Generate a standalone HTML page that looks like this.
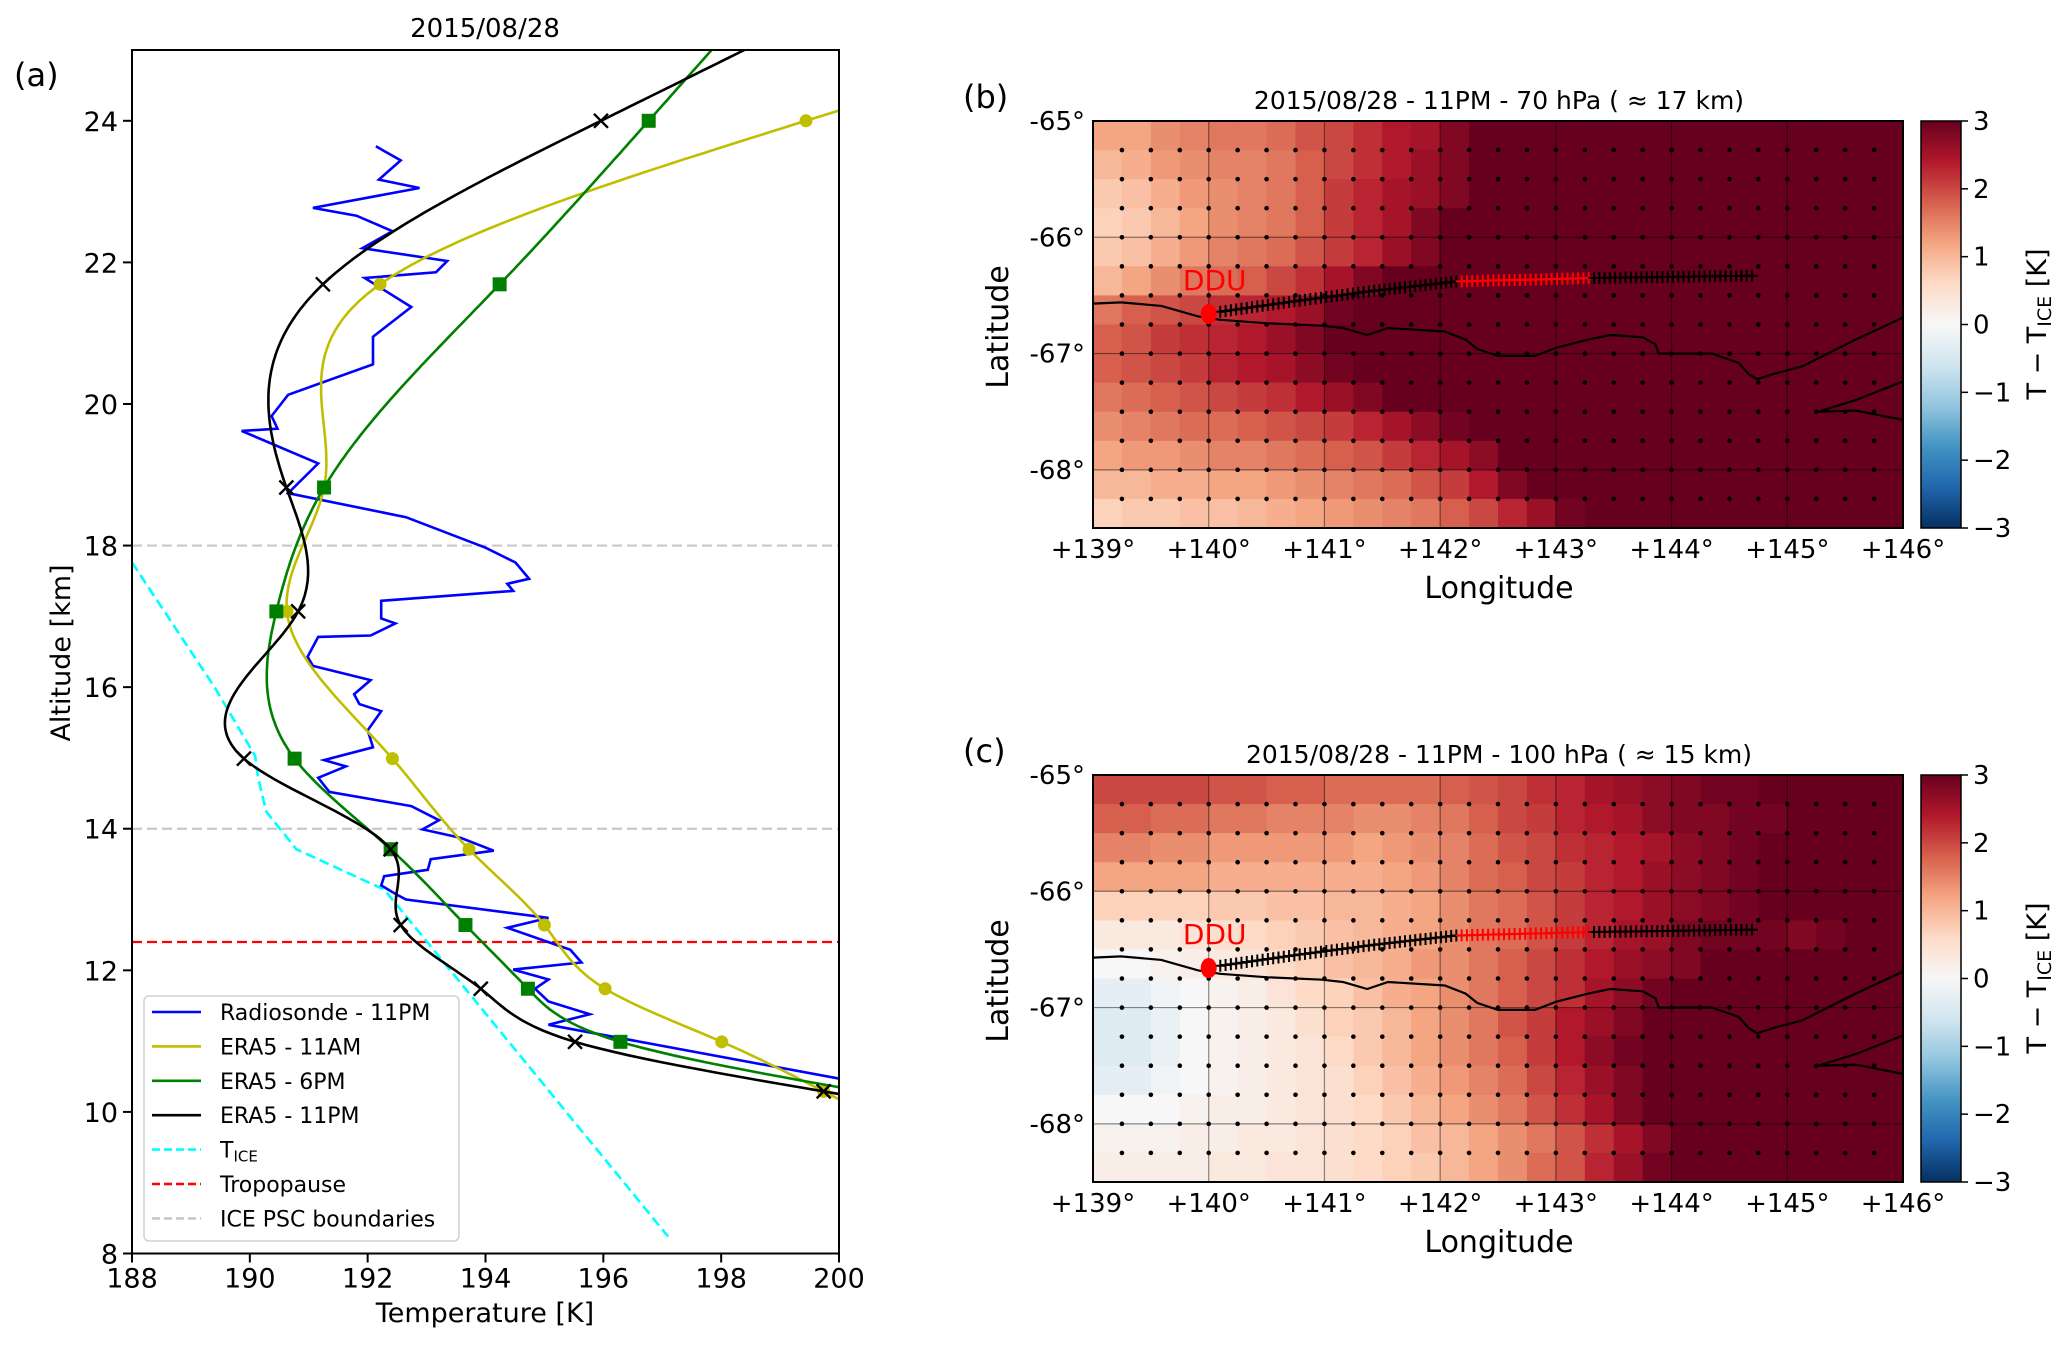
<!DOCTYPE html>
<html><head><meta charset="utf-8">
<style>
html,body{margin:0;padding:0;background:#fff;}
svg{display:block;font-family:"DejaVu Sans","Liberation Sans",sans-serif;}
</style></head>
<body>
<svg id="fig" width="2067" height="1345" viewBox="0 0 2067 1345" xmlns="http://www.w3.org/2000/svg"></svg>
<script>
// ---------- Panel (a) data ----------
const sondeT = [200.0,195.07,195.77,195.07,194.84,195.07,194.47,195.63,195.44,194.37,195.07,192.65,192.47,192.23,192.28,193.02,193.07,194.14,193.58,192.93,193.21,192.74,191.35,191.16,191.63,191.26,192.09,192.0,192.23,191.86,191.77,192.05,191.07,190.98,191.16,192.05,192.47,192.23,192.23,194.47,194.37,194.74,194.51,194.0,192.65,190.65,191.16,189.86,190.47,190.37,190.65,192.09,192.09,192.74,191.95,193.16,193.35,191.91,192.42,191.81,191.07,192.88,192.19,192.56,192.14];
const sondeZ = [10.47,11.23,11.38,11.56,11.74,11.87,12.01,12.11,12.29,12.6,12.74,13.0,13.08,13.2,13.33,13.42,13.57,13.69,13.87,13.99,14.12,14.32,14.52,14.72,14.88,14.97,15.15,15.39,15.66,15.76,15.9,16.1,16.3,16.43,16.71,16.73,16.9,16.97,17.22,17.36,17.46,17.53,17.76,17.97,18.4,18.74,19.16,19.62,19.65,19.83,20.13,20.56,20.95,21.37,21.78,21.86,22.02,22.2,22.44,22.66,22.77,23.05,23.17,23.44,23.64];
const eraLevels = [10.29,10.99,11.74,12.64,13.71,14.99,17.07,18.82,21.69,24.0];
const era11am = [199.74,198.01,196.03,195.0,193.72,192.42,190.63,191.26,192.21,199.44];
const era6pm  = [200.4,196.29,194.72,193.66,192.39,190.76,190.45,191.26,194.24,196.77];
const era11pm = [199.74,195.52,193.92,192.56,192.39,189.9,190.82,190.62,191.24,195.96];
const ticeT = [188.0,189.4,190.09,190.14,190.28,190.79,192.28,197.1];
const ticeZ = [17.76,16.0,15.03,14.72,14.24,13.71,13.14,8.24];
const tropopause = 12.4;
const pscBounds = [14, 18];
const xTicksA = [188,190,192,194,196,198,200];
const yTicksA = [8,10,12,14,16,18,20,22,24];

// ---------- Map data ----------
const lonTicks = [139,140,141,142,143,144,145,146];
const latTicks = [-65,-66,-67,-68];
const cbTicks = [3,2,1,0,-1,-2,-3];
const gridB = [
[1.2,1.2,1.4,1.5,1.6,1.6,1.7,1.9,2.0,2.2,2.4,2.5,2.8,3,3,3,3,3,3,3,3,3,3,3,3,3,3,3],
[1.0,1.1,1.3,1.4,1.5,1.5,1.6,1.8,2.0,2.2,2.4,2.6,2.8,3,3,3,3,3,3,3,3,3,3,3,3,3,3,3],
[0.8,0.9,1.1,1.3,1.4,1.5,1.6,1.8,2.1,2.3,2.5,2.6,2.8,3,3,3,3,3,3,3,3,3,3,3,3,3,3,3],
[0.7,0.8,1.0,1.2,1.4,1.5,1.6,1.8,2.1,2.3,2.5,2.8,3,3,3,3,3,3,3,3,3,3,3,3,3,3,3,3],
[0.8,0.9,1.1,1.3,1.5,1.6,1.7,1.9,2.1,2.3,2.6,2.8,3,3,3,3,3,3,3,3,3,3,3,3,3,3,3,3],
[1.0,1.2,1.4,1.6,1.7,1.8,2.0,2.2,2.5,2.8,3,3,3,3,3,3,3,3,3,3,3,3,3,3,3,3,3,3],
[1.6,1.8,1.9,2.0,2.2,2.3,2.4,2.6,2.9,3,3,3,3,3,3,3,3,3,3,3,3,3,3,3,3,3,3,3],
[1.8,1.9,2.1,2.2,2.3,2.4,2.6,2.8,3,3,3,3,3,3,3,3,3,3,3,3,3,3,3,3,3,3,3,3],
[1.8,1.9,2.0,2.1,2.3,2.4,2.5,2.7,2.9,3,3,3,3,3,3,3,3,3,3,3,3,3,3,3,3,3,3,3],
[1.6,1.7,1.8,1.9,2.0,2.1,2.2,2.4,2.6,2.8,3,3,3,3,3,3,3,3,3,3,3,3,3,3,3,3,3,3],
[1.4,1.5,1.6,1.7,1.7,1.8,1.9,2.0,2.1,2.3,2.5,2.7,2.9,3,3,3,3,3,3,3,3,3,3,3,3,3,3,3],
[1.2,1.3,1.3,1.4,1.5,1.5,1.6,1.7,1.8,1.9,2.1,2.3,2.5,2.7,3,3,3,3,3,3,3,3,3,3,3,3,3,3],
[1.0,1.0,1.1,1.1,1.2,1.2,1.3,1.4,1.5,1.6,1.7,1.9,2.1,2.4,2.8,3,3,3,3,3,3,3,3,3,3,3,3,3],
[0.7,0.8,0.8,0.9,0.9,1.0,1.1,1.2,1.3,1.4,1.5,1.6,1.8,2.0,2.3,2.6,2.9,3,3,3,3,3,3,3,3,3,3,3]];
const gridC = [
[2.0,2.0,2.0,2.0,1.9,1.9,1.8,1.8,1.7,1.7,1.7,1.7,1.8,1.9,2.0,2.2,2.3,2.5,2.6,2.7,2.8,2.9,2.9,3,3,3,3,3],
[1.8,1.8,1.7,1.7,1.6,1.6,1.5,1.5,1.5,1.4,1.4,1.5,1.6,1.8,2.0,2.1,2.3,2.4,2.5,2.7,2.8,2.8,2.9,2.9,3,3,3,3],
[1.5,1.5,1.4,1.4,1.3,1.3,1.3,1.3,1.3,1.2,1.3,1.4,1.5,1.7,1.9,2.0,2.2,2.3,2.4,2.5,2.7,2.8,2.9,3,3,3,3,3],
[1.2,1.2,1.2,1.2,1.1,1.1,1.1,1.1,1.1,1.1,1.2,1.3,1.5,1.7,1.8,2.0,2.1,2.3,2.4,2.6,2.7,2.8,2.9,3,3,3,3,3],
[0.7,0.7,0.7,0.7,0.8,0.8,0.9,0.9,1.0,1.0,1.1,1.2,1.4,1.6,1.7,1.9,2.1,2.3,2.4,2.6,2.7,2.8,2.9,3,3,3,3,3],
[0.3,0.3,0.3,0.4,0.5,0.6,0.7,0.8,0.9,1.0,1.1,1.2,1.4,1.6,1.7,1.9,2.1,2.3,2.5,2.6,2.8,2.9,2.9,2.9,2.8,2.9,3,3],
[0.0,0.0,0.1,0.2,0.3,0.4,0.6,0.7,0.9,1.0,1.1,1.3,1.4,1.6,1.8,2.0,2.2,2.4,2.6,2.7,2.8,3,3,3,3,3,3,3],
[-0.3,-0.3,-0.1,0,0.1,0.2,0.4,0.6,0.7,0.9,1.1,1.2,1.4,1.6,1.8,2.0,2.2,2.5,2.7,2.9,3,3,3,3,3,3,3,3],
[-0.4,-0.4,-0.2,0,0.1,0.2,0.3,0.5,0.7,0.8,1.0,1.2,1.4,1.6,1.9,2.1,2.4,2.6,2.8,3,3,3,3,3,3,3,3,3],
[-0.4,-0.4,-0.2,0,0.1,0.2,0.3,0.4,0.6,0.8,1.0,1.2,1.4,1.6,1.8,2.1,2.4,2.7,2.9,3,3,3,3,3,3,3,3,3],
[-0.3,-0.3,-0.1,0,0.1,0.2,0.3,0.4,0.5,0.7,0.9,1.1,1.3,1.5,1.7,2.0,2.3,2.6,2.8,3,3,3,3,3,3,3,3,3],
[0,0,0,0.1,0.2,0.2,0.3,0.4,0.5,0.6,0.8,1.0,1.2,1.4,1.6,1.9,2.2,2.5,2.8,3,3,3,3,3,3,3,3,3],
[0.1,0.1,0.1,0.2,0.2,0.3,0.3,0.4,0.5,0.6,0.7,0.9,1.0,1.2,1.4,1.6,1.9,2.2,2.5,2.8,3,3,3,3,3,3,3,3],
[0.2,0.2,0.2,0.2,0.3,0.3,0.4,0.4,0.5,0.6,0.7,0.8,1.0,1.2,1.4,1.7,1.9,2.3,2.6,2.9,3,3,3,3,3,3,3,3]];
const coastLon = [139,139.24,139.59,139.91,140.1,140.51,140.98,141.16,141.37,141.55,142.04,142.22,142.32,142.5,142.82,143.0,143.28,143.47,143.75,143.86,143.89,144.35,144.58,144.67,144.74,144.9,145.13,145.59,146];
const coastLat = [-66.57,-66.56,-66.59,-66.68,-66.71,-66.74,-66.76,-66.78,-66.84,-66.78,-66.81,-66.88,-66.96,-67.02,-67.02,-66.95,-66.88,-66.84,-66.86,-66.92,-67.0,-67.0,-67.08,-67.18,-67.22,-67.17,-67.11,-66.88,-66.69];
const coast2Lon = [146,145.59,145.27,145.59,146];
const coast2Lat = [-67.24,-67.4,-67.5,-67.49,-67.57];
const trajLon = [140.1,140.74,141.43,142.14,143.33,144.74];
const trajLat = [-66.64,-66.55,-66.46,-66.38,-66.35,-66.33];
const trajRed = [142.17,143.31];
const ddu = [140.0,-66.66];

const svg = document.getElementById('fig');
const NS = 'http://www.w3.org/2000/svg';
function mk(tag, attrs, parent){const e=document.createElementNS(NS,tag);for(const k in attrs)e.setAttribute(k,attrs[k]);(parent||svg).appendChild(e);return e;}
function txt(s, attrs, parent){const e=mk('text',attrs,parent);e.textContent=s;return e;}

// ======== Panel (a) ========
const AL=132, AR=839, AT=50, AB=1253.5;
const xA = t => AL + (t-188)*(AR-AL)/12;
const yA = z => AB - (z-8)*(AB-AT)/17;
const gA = mk('g',{});


const cpA = mk('clipPath',{id:'clipA'});
mk('rect',{x:AL,y:AT,width:AR-AL,height:AB-AT},cpA);
const plotA = mk('g',{'clip-path':'url(#clipA)'},gA);

function hline(z,color,name){const l=mk('line',{x1:AL,x2:AR,y1:yA(z),y2:yA(z),stroke:color,'stroke-width':2.2,'stroke-dasharray':'10,5'},plotA);
}
pscBounds.forEach(z=>hline(z,'#c8c8c8','psc-boundary-line'));
hline(tropopause,'#ff0000','tropopause-line');

let d='';ticeT.forEach((t,i)=>{d+=(i?'L':'M')+xA(t).toFixed(1)+','+yA(ticeZ[i]).toFixed(1);});
const tice=mk('path',{d:d,fill:'none',stroke:'#00ffff','stroke-width':2.6,'stroke-dasharray':'10,5'},plotA);


d='';sondeT.forEach((t,i)=>{d+=(i?'L':'M')+xA(t).toFixed(1)+','+yA(sondeZ[i]).toFixed(1);});
const sonde=mk('path',{d:d,fill:'none',stroke:'#0000ff','stroke-width':2.6,'stroke-linejoin':'miter'},plotA);


function spline(xs,ys){const n=xs.length,h=[],al=[],l=[1],mu=[0],zz=[0],c=new Array(n).fill(0),b=[],dd=[];
for(let i=0;i<n-1;i++)h.push(xs[i+1]-xs[i]);
for(let i=1;i<n-1;i++)al[i]=3/h[i]*(ys[i+1]-ys[i])-3/h[i-1]*(ys[i]-ys[i-1]);
for(let i=1;i<n-1;i++){l[i]=2*(xs[i+1]-xs[i-1])-h[i-1]*mu[i-1];mu[i]=h[i]/l[i];zz[i]=(al[i]-h[i-1]*zz[i-1])/l[i];}
for(let j=n-2;j>=0;j--){if(j>0)c[j]=zz[j]-mu[j]*c[j+1];b[j]=(ys[j+1]-ys[j])/h[j]-h[j]*(c[j+1]+2*c[j])/3;dd[j]=(c[j+1]-c[j])/(3*h[j]);}
return x=>{if(x<xs[0]){return ys[0]+b[0]*(x-xs[0]);}
if(x>xs[n-1]){const j=n-2,hh=h[j];const slope=b[j]+2*c[j]*hh+3*dd[j]*hh*hh;return ys[n-1]+slope*(x-xs[n-1]);}
let j=0;while(j<n-2&&x>xs[j+1])j++;const dx=x-xs[j];return ys[j]+b[j]*dx+c[j]*dx*dx+dd[j]*dx*dx*dx;};}
function era(vals,color,name,marker){
 const f=spline(eraLevels,vals);let p='';
 for(let z=9.5;z<=26.5;z+=0.05){p+=(p?'L':'M')+xA(f(z)).toFixed(1)+','+yA(z).toFixed(1);}
 const ln=mk('path',{d:p,fill:'none',stroke:color,'stroke-width':2.6},plotA);
 
 vals.forEach((t,i)=>{const x=xA(t),y=yA(eraLevels[i]);let m;
  if(marker==='o')m=mk('circle',{cx:x,cy:y,r:6.5,fill:color},plotA);
  else if(marker==='s')m=mk('rect',{x:x-7,y:y-7,width:14,height:14,fill:color},plotA);
  else m=mk('path',{d:`M${x-7},${y-7}L${x+7},${y+7}M${x-7},${y+7}L${x+7},${y-7}`,stroke:color,'stroke-width':2.4},plotA);
  });
}
era(era11am,'#bfbf00','era5-11am-line','o');
era(era6pm,'#008000','era5-6pm-line','s');
era(era11pm,'#000000','era5-11pm-line','x');

const fa=mk('rect',{x:AL,y:AT,width:AR-AL,height:AB-AT,fill:'none',stroke:'#000','stroke-width':2},gA);

xTicksA.forEach(t=>{mk('line',{x1:xA(t),x2:xA(t),y1:AB,y2:AB+9,stroke:'#000','stroke-width':2},gA);
 const e=txt(String(t),{x:xA(t),y:AB+34,'font-size':27,'text-anchor':'middle',fill:'#000'},gA);
 });
yTicksA.forEach(z=>{mk('line',{x1:AL-9,x2:AL,y1:yA(z),y2:yA(z),stroke:'#000','stroke-width':2},gA);
 const e=txt(String(z),{x:AL-14,y:yA(z)+10,'font-size':27,'text-anchor':'end',fill:'#000'},gA);
 });
let e;
e=txt('Temperature [K]',{x:485,y:1322,'font-size':27,'text-anchor':'middle'},gA);
e=txt('Altitude [km]',{x:0,y:0,'font-size':27,'text-anchor':'middle',transform:'translate(70,653) rotate(-90)'},gA);
e=txt('2015/08/28',{x:485,y:37,'font-size':26,'text-anchor':'middle'},gA);
e=txt('(a)',{x:14,y:86,'font-size':32},gA);

const lg=mk('g',{},gA);
mk('rect',{x:144,y:996,width:315,height:245,rx:5,fill:'rgba(255,255,255,0.85)',stroke:'#d0d0d0','stroke-width':1.5},lg);
const legItems=[['Radiosonde - 11PM','#0000ff',''],['ERA5 - 11AM','#bfbf00',''],['ERA5 - 6PM','#008000',''],['ERA5 - 11PM','#000',''],['TICE','#00ffff','8,4'],['Tropopause','#ff0000','8,4'],['ICE PSC boundaries','#c8c8c8','8,4']];
legItems.forEach((it,i)=>{const y=1012+i*34.4;const g=mk('g',{},lg);
 mk('line',{x1:152,x2:201,y1:y,y2:y,stroke:it[1],'stroke-width':2.6,'stroke-dasharray':it[2]||'none'},g);
 if(it[0]==='TICE'){const t=mk('text',{x:220,y:y+8,'font-size':22},g);t.textContent='T';const s=mk('tspan',{'font-size':15,dy:4},t);s.textContent='ICE';}
 else txt(it[0],{x:220,y:y+8,'font-size':22},g);});

// ======== Map panels ========
const cmapStops=['#053061','#2166ac','#4393c3','#92c5de','#d1e5f0','#f7f7f7','#fddbc7','#f4a582','#d6604d','#b2182b','#67001f'];
function hex(h){return[parseInt(h.slice(1,3),16),parseInt(h.slice(3,5),16),parseInt(h.slice(5,7),16)];}
function cmap(v){let f=(Math.max(-3,Math.min(3,v))+3)/6*10;let i=Math.min(9,Math.floor(f));let t=f-i;const a=hex(cmapStops[i]),b=hex(cmapStops[i+1]);
 return 'rgb('+a.map((c,k)=>Math.round(c+(b[k]-c)*t)).join(',')+')';}

function mapPanel(top,grid,title,label,name){
 const L=1093,R=1903,T=top,B=top+407;
 const X=lon=>L+(lon-139)*(R-L)/7, Y=lat=>T+(-65-lat)*(B-T)/3.5;
 const g=mk('g',{});
 const cid='clip'+name;const cp=mk('clipPath',{id:cid},g);mk('rect',{x:L,y:T,width:R-L,height:B-T},cp);
 const pg=mk('g',{'clip-path':'url(#'+cid+')'},g);
 grid.forEach((row,r)=>row.forEach((v,c)=>{const x0=X(139+c*0.25),y0=Y(-65-r*0.25);
  const cell=mk('rect',{x:x0.toFixed(2),y:y0.toFixed(2),width:(X(139.25)-X(139)+0.6).toFixed(2),height:(Y(-65.25)-Y(-65)+0.6).toFixed(2),fill:cmap(v)},pg);
  }));
 lonTicks.forEach(l=>mk('line',{x1:X(l),x2:X(l),y1:T,y2:B,stroke:'rgba(0,0,0,0.45)','stroke-width':1.2},pg));
 latTicks.forEach(l=>mk('line',{x1:L,x2:R,y1:Y(l),y2:Y(l),stroke:'rgba(0,0,0,0.45)','stroke-width':1.2},pg));
 for(let i=1;i<28;i++)for(let j=1;j<14;j++)mk('circle',{cx:X(139+i*0.25),cy:Y(-65-j*0.25),r:2.3,fill:'#000'},pg);
 [[coastLon,coastLat],[coast2Lon,coast2Lat]].forEach(([lo,la])=>{let p='';lo.forEach((v,i)=>{p+=(i?'L':'M')+X(v).toFixed(1)+','+Y(la[i]).toFixed(1);});
  const c=mk('path',{d:p,fill:'none',stroke:'#000','stroke-width':2.2},pg);});
 const tg=mk('g',{},pg);
 for(let k=0;k<trajLon.length-1;k++){const n=Math.round((trajLon[k+1]-trajLon[k])/0.045);
  for(let s=0;s<n;s++){const lo=trajLon[k]+(trajLon[k+1]-trajLon[k])*s/n,la=trajLat[k]+(trajLat[k+1]-trajLat[k])*s/n;
   const x=X(lo),y=Y(la);const col=(lo>=trajRed[0]&&lo<=trajRed[1])?'#ff0000':'#000';
   mk('path',{d:`M${x-6},${y}L${x+6},${y}M${x},${y-6}L${x},${y+6}`,stroke:col,'stroke-width':2},tg);}}
 const dd=mk('ellipse',{cx:X(ddu[0]),cy:Y(ddu[1]),rx:8,ry:10,fill:'#ff0000'},pg);
 let t=txt('DDU',{x:X(ddu[0])+6,y:Y(ddu[1])-24,'font-size':28,'text-anchor':'middle',fill:'#ff0000'},g);
 mk('rect',{x:L,y:T,width:R-L,height:B-T,fill:'none',stroke:'#000','stroke-width':2},g);
 lonTicks.forEach(l=>{const e=txt('+'+l+'°',{x:X(l),y:B+30,'font-size':26,'text-anchor':'middle'},g);});
 latTicks.forEach(l=>{const e=txt(l+'°',{x:L-8,y:Y(l)+9,'font-size':26,'text-anchor':'end'},g);});
 t=txt('Longitude',{x:1499,y:B+70,'font-size':30,'text-anchor':'middle'},g);
 t=txt('Latitude',{x:0,y:0,'font-size':30,'text-anchor':'middle',transform:`translate(1008,${T+206}) rotate(-90)`},g);
 t=txt(title,{x:1499,y:T-12,'font-size':25,'text-anchor':'middle'},g);
 t=txt(label,{x:963,y:T-13,'font-size':32},g);
 const cb=mk('g',{},g);
 const gid='grad'+name;const lgd=mk('linearGradient',{id:gid,x1:0,y1:1,x2:0,y2:0},cb);
 cmapStops.forEach((c,i)=>mk('stop',{offset:(i/10),'stop-color':c},lgd));
 mk('rect',{x:1921,y:T,width:40,height:B-T,fill:`url(#${gid})`,stroke:'#000','stroke-width':1.5},cb);
 cbTicks.forEach(v=>{const y=T+(3-v)/6*(B-T);mk('line',{x1:1961,x2:1968,y1:y,y2:y,stroke:'#000','stroke-width':1.5},cb);
  const e=txt(v<0?'\u2212'+(-v):String(v),{x:1973,y:y+9,'font-size':26},cb);});
 const ct=mk('text',{x:0,y:0,'font-size':27,'text-anchor':'middle',transform:`translate(2046,${T+203}) rotate(-90)`},cb);
 
 ct.textContent='T \u2212 T';const sp=mk('tspan',{'font-size':19,dy:5},ct);sp.textContent='ICE';const sp2=mk('tspan',{dy:-5},ct);sp2.textContent=' [K]';
}
mapPanel(121,gridB,'2015/08/28 - 11PM - 70 hPa ( \u2248 17 km)','(b)','panel-b-map');
mapPanel(775,gridC,'2015/08/28 - 11PM - 100 hPa ( \u2248 15 km)','(c)','panel-c-map');
</script>
</body></html>
